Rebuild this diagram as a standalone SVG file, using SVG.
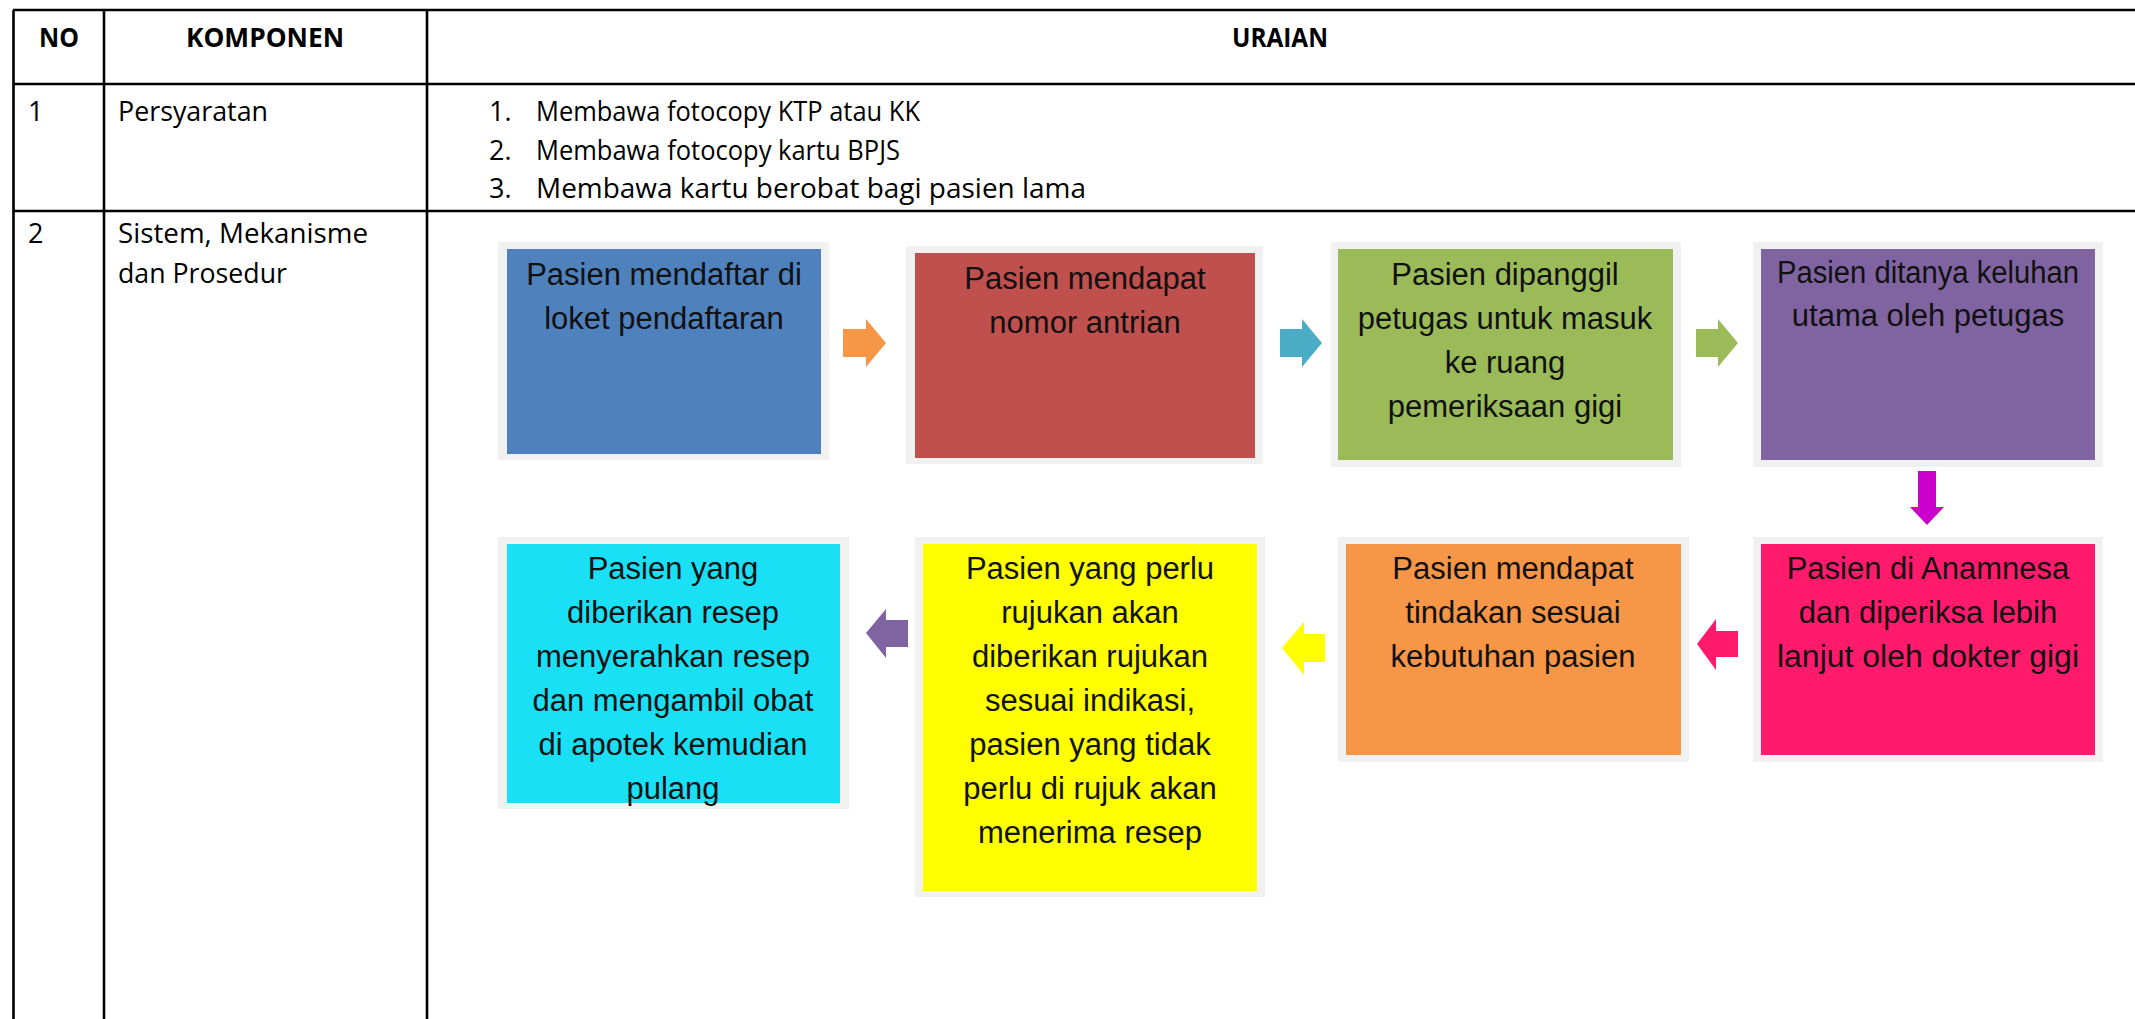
<svg xmlns="http://www.w3.org/2000/svg" width="2135" height="1019" viewBox="0 0 2135 1019">
<style>
.grid{stroke:#000;stroke-width:2.6;fill:none}
.th{font-family:"Open Sans","Liberation Sans",sans-serif;font-weight:bold;font-size:27px;fill:#000;text-anchor:middle}
.td{font-family:"Open Sans","Liberation Sans",sans-serif;font-size:27px;fill:#000}
.frame{fill:#f1f1f1}
.bt{font-family:"Liberation Sans",Arial,sans-serif;font-size:31px;fill:#111;text-anchor:middle}
</style>
<rect width="2135" height="1019" fill="#fff"/>
<g id="table">
<line class="grid" x1="13" y1="10" x2="2135" y2="10"/>
<line class="grid" x1="13" y1="84" x2="2135" y2="84"/>
<line class="grid" x1="13" y1="211" x2="2135" y2="211"/>
<line class="grid" x1="13.5" y1="10" x2="13.5" y2="1019"/>
<line class="grid" x1="104" y1="10" x2="104" y2="1019"/>
<line class="grid" x1="427" y1="10" x2="427" y2="1019"/>
<text class="th" x="59" y="47" textLength="40" lengthAdjust="spacingAndGlyphs">NO</text>
<text class="th" x="265" y="47" textLength="158" lengthAdjust="spacingAndGlyphs">KOMPONEN</text>
<text class="th" x="1280" y="47" textLength="96" lengthAdjust="spacingAndGlyphs">URAIAN</text>
<text class="td" x="28" y="121">1</text>
<text class="td" x="118" y="121" textLength="150" lengthAdjust="spacingAndGlyphs">Persyaratan</text>
<text class="td" x="489" y="121">1.</text>
<text class="td" x="536" y="121" textLength="384" lengthAdjust="spacingAndGlyphs">Membawa fotocopy KTP atau KK</text>
<text class="td" x="489" y="160">2.</text>
<text class="td" x="536" y="160" textLength="364" lengthAdjust="spacingAndGlyphs">Membawa fotocopy kartu BPJS</text>
<text class="td" x="489" y="198">3.</text>
<text class="td" x="536" y="198" textLength="550" lengthAdjust="spacingAndGlyphs">Membawa kartu berobat bagi pasien lama</text>
<text class="td" x="28" y="243">2</text>
<text class="td" x="118" y="243" textLength="250" lengthAdjust="spacingAndGlyphs">Sistem, Mekanisme</text>
<text class="td" x="118" y="283" textLength="169" lengthAdjust="spacingAndGlyphs">dan Prosedur</text>
</g>
<g id="step1">
<rect class="frame" x="498" y="242" width="331" height="218"/>
<rect x="507" y="249" width="314" height="205" fill="#4f81bd"/>
<text class="bt" x="664" y="285">Pasien mendaftar di</text>
<text class="bt" x="664" y="329">loket pendaftaran</text>
</g>
<g id="step2">
<rect class="frame" x="906" y="246" width="357" height="218"/>
<rect x="915" y="253" width="340" height="205" fill="#c0504d"/>
<text class="bt" x="1085" y="289">Pasien mendapat</text>
<text class="bt" x="1085" y="333">nomor antrian</text>
</g>
<g id="step3">
<rect class="frame" x="1331" y="242" width="350" height="225"/>
<rect x="1338" y="249" width="335" height="211" fill="#9bbb59"/>
<text class="bt" x="1505" y="285">Pasien dipanggil</text>
<text class="bt" x="1505" y="329">petugas untuk masuk</text>
<text class="bt" x="1505" y="373">ke ruang</text>
<text class="bt" x="1505" y="417">pemeriksaan gigi</text>
</g>
<g id="step4">
<rect class="frame" x="1753" y="242" width="350" height="225"/>
<rect x="1761" y="249" width="334" height="211" fill="#8064a2"/>
<text class="bt" x="1928" y="283" textLength="302" lengthAdjust="spacingAndGlyphs">Pasien ditanya keluhan</text>
<text class="bt" x="1928" y="326">utama oleh petugas</text>
</g>
<g id="step5">
<rect class="frame" x="1753" y="537" width="350" height="225"/>
<rect x="1761" y="544" width="334" height="211" fill="#ff1a6c"/>
<text class="bt" x="1928" y="579">Pasien di Anamnesa</text>
<text class="bt" x="1928" y="623">dan diperiksa lebih</text>
<text class="bt" x="1928" y="667" textLength="302" lengthAdjust="spacingAndGlyphs">lanjut oleh dokter gigi</text>
</g>
<g id="step6">
<rect class="frame" x="1338" y="537" width="351" height="225"/>
<rect x="1346" y="544" width="335" height="211" fill="#f79646"/>
<text class="bt" x="1513" y="579">Pasien mendapat</text>
<text class="bt" x="1513" y="623">tindakan sesuai</text>
<text class="bt" x="1513" y="667">kebutuhan pasien</text>
</g>
<g id="step7">
<rect class="frame" x="915" y="537" width="350" height="360"/>
<rect x="923" y="544" width="334" height="347" fill="#ffff00"/>
<text class="bt" x="1090" y="579">Pasien yang perlu</text>
<text class="bt" x="1090" y="623">rujukan akan</text>
<text class="bt" x="1090" y="667">diberikan rujukan</text>
<text class="bt" x="1090" y="711">sesuai indikasi,</text>
<text class="bt" x="1090" y="755">pasien yang tidak</text>
<text class="bt" x="1090" y="799">perlu di rujuk akan</text>
<text class="bt" x="1090" y="843">menerima resep</text>
</g>
<g id="step8">
<rect class="frame" x="498" y="537" width="351" height="272"/>
<rect x="507" y="544" width="333" height="259" fill="#19e0f5"/>
<text class="bt" x="673" y="579">Pasien yang</text>
<text class="bt" x="673" y="623">diberikan resep</text>
<text class="bt" x="673" y="667">menyerahkan resep</text>
<text class="bt" x="673" y="711">dan mengambil obat</text>
<text class="bt" x="673" y="755">di apotek kemudian</text>
<text class="bt" x="673" y="799">pulang</text>
</g>
<g id="connectors">
<polygon points="843,329 866,329 866,319 886,343 866,367 866,357 843,357" fill="#f79646"/>
<polygon points="1280,329 1302,329 1302,319 1322,343 1302,367 1302,357 1280,357" fill="#4bacc6"/>
<polygon points="1696,329 1718,329 1718,319 1738,343 1718,367 1718,357 1696,357" fill="#9bbb59"/>
<polygon points="1918,471 1936,471 1936,507 1944,507 1927,525 1910,507 1918,507" fill="#cc00cc"/>
<polygon points="1738,631 1716,631 1716,619 1697,644 1716,670 1716,657 1738,657" fill="#ff1a6c"/>
<polygon points="1325,634 1304,634 1304,622 1282,648 1304,675 1304,662 1325,662" fill="#ffff00"/>
<polygon points="908,620 886,620 886,609 866,633 886,658 886,647 908,647" fill="#8064a2"/>
</g>
</svg>
